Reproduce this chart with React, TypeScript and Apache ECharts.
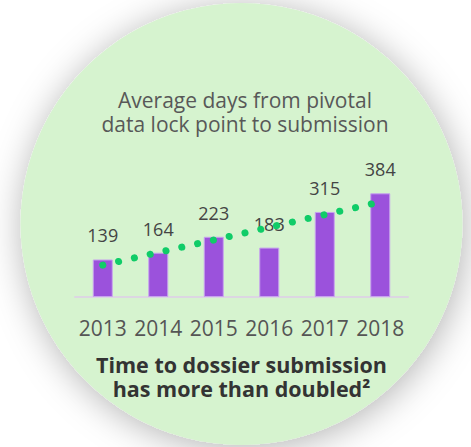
import React, { useEffect, useRef } from "react";
import * as echarts from "echarts";

const YEARS = ["2013", "2014", "2015", "2016", "2017", "2018"];
const DAYS = [139, 164, 223, 183, 315, 384];
const TREND = [118, 165, 211, 258, 305, 352];
const TITLE_LINES = ["Average days from pivotal", "data lock point to submission"];
const NOTE_LINES = ["Time to dossier submission", "has more than doubled\u00B2"];

const FONT = "'Open Sans', 'Noto Sans', sans-serif";

export default function App() {
  const ref = useRef<HTMLDivElement>(null);
  useEffect(() => {
    if (!ref.current) return;
    const chart = echarts.init(ref.current, undefined, { renderer: "svg" });
    chart.setOption({
      animation: false,
      backgroundColor: "#ffffff",
      graphic: [
        {
          type: "circle",
          z: -10,
          shape: { cx: 241.5, cy: 224, r: 221 },
          style: {
            fill: "#d6f3cf",
            shadowBlur: 36,
            shadowColor: "rgba(0,0,0,0.3)",
            shadowOffsetX: 2,
            shadowOffsetY: 4,
          },
        },
        {
          type: "text",
          x: 245,
          y: 112,
          style: {
            text: TITLE_LINES.join("\n"),
            font: `21px ${FONT}`,
            lineHeight: 24,
            fill: "#585858",
            align: "center",
            verticalAlign: "middle",
          },
        },
        {
          type: "text",
          x: 241.5,
          y: 376,
          style: {
            text: NOTE_LINES.join("\n"),
            font: `bold 21.5px ${FONT}`,
            lineHeight: 24,
            fill: "#333333",
            align: "center",
            verticalAlign: "middle",
          },
        },
      ],
      grid: { left: 75, width: 333, top: 162, bottom: 150, containLabel: false },
      xAxis: {
        type: "category",
        data: YEARS,
        axisLine: { show: true, lineStyle: { color: "#dcd6e2", width: 2 } },
        axisTick: { show: false },
        axisLabel: {
          interval: 0,
          fontFamily: FONT,
          fontSize: 21,
          color: "#555555",
          margin: 20,
        },
      },
      yAxis: {
        type: "value",
        min: 0,
        max: 500,
        show: false,
        splitLine: { show: false },
      },
      series: [
        {
          type: "bar",
          data: DAYS,
          barWidth: 20,
          z: 2,
          itemStyle: { color: "#9b52dc", borderColor: "#c7a3ee", borderWidth: 1 },
          label: {
            show: true,
            position: "top",
            distance: 15,
            fontFamily: FONT,
            fontSize: 18,
            color: "#444444",
          },
        },
        {
          type: "line",
          data: TREND,
          z: 5,
          symbol: "none",
          lineStyle: {
            color: "#10cc68",
            width: 7,
            type: [0.1, 16.1],
            cap: "round",
          },
        },
      ],
    });
    return () => chart.dispose();
  }, []);
  return (
    <div
      ref={ref}
      style={{ position: "fixed", left: 0, top: 0, width: 471, height: 447 }}
    />
  );
}
